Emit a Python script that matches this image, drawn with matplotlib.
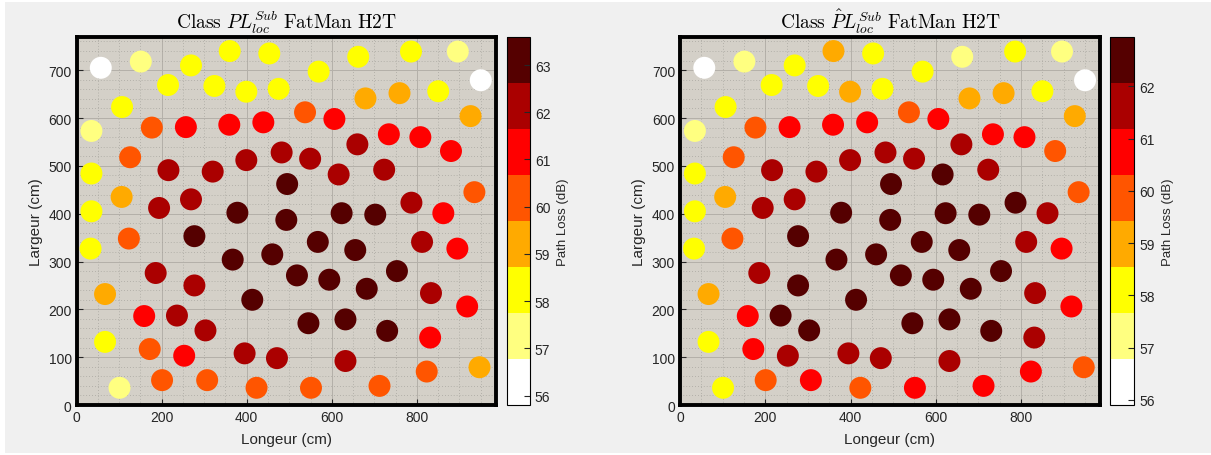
import numpy as np
import matplotlib
matplotlib.use('Agg')
import matplotlib.pyplot as plt
from matplotlib.colors import ListedColormap
from matplotlib.patches import Rectangle
from matplotlib.ticker import MultipleLocator

plt.rcParams['font.family'] = ['Liberation Sans', 'DejaVu Sans']
plt.rcParams['mathtext.fontset'] = 'cm'

# positions des mesures (cm)
x_pos = [57, 151, 269, 360, 453, 215, 324, 399, 475, 569, 662, 786, 896, 950,
         679, 759, 850, 926, 107, 35, 177, 257, 359, 439, 537, 606, 734, 808,
         880, 660, 126, 216, 320, 399, 482, 549, 616, 723, 495, 35, 106, 35,
         194, 269, 378, 493, 623, 702, 787, 862, 935, 33, 123, 277, 367, 460,
         567, 655, 812, 895, 186, 277, 518, 594, 682, 753, 833, 918, 67, 413,
         159, 236, 303, 545, 632, 730, 831, 67, 172, 253, 395, 471, 632, 947,
         823, 101, 201, 307, 423, 551, 712]
y_pos = [705, 718, 710, 740, 735, 669, 667, 655, 661, 697, 728, 739, 739, 679,
         641, 652, 656, 604, 623, 573, 580, 581, 586, 591, 612, 598, 566, 560,
         531, 545, 518, 491, 488, 512, 528, 515, 482, 492, 462, 484, 435, 405,
         412, 430, 402, 387, 401, 398, 423, 401, 445, 327, 348, 353, 304, 315,
         341, 324, 341, 327, 276, 250, 271, 262, 243, 280, 234, 206, 232, 220,
         186, 187, 156, 171, 179, 155, 141, 132, 117, 103, 108, 98, 92, 79,
         70, 36, 52, 52, 36, 36, 40]

# Path loss (dB)
pl_sub = [55.8, 57, 58, 58, 58, 58, 58, 58, 58, 58, 58, 58, 57, 56,
          59, 59, 58, 59, 58, 57, 60, 61, 61, 61, 60, 61, 61, 61,
          61, 62, 60, 62, 62, 62, 62, 62, 62, 62, 63, 58, 59, 58,
          62, 62, 63, 63, 63, 63.6, 62, 61, 60, 58, 60, 63, 63, 63,
          63, 63, 62, 61, 62, 62, 63, 63, 63, 63, 62, 61, 59, 63,
          61, 62, 62, 63, 63, 63, 61, 58, 60, 61, 62, 62, 62, 59,
          60, 57, 60, 60, 60, 60, 60]
pl_sub_hat = [55.9, 57, 58, 59, 58, 58, 58, 59, 58, 58, 57, 58, 57, 56,
              59, 59, 58, 59, 58, 57, 60, 61, 61, 61, 60, 61, 61, 61,
              60, 62, 60, 62, 62, 62, 62, 62, 62.6, 62, 62.6, 58, 59, 58,
              62, 62, 62.6, 62.6, 62.6, 62.95, 62.6, 62, 60, 58, 60, 62.6, 62.6, 62.6,
              62.6, 62.6, 62, 61, 62, 62.6, 62.6, 62.6, 62.6, 62.6, 62, 61, 59, 62.6,
              61, 62.6, 62.6, 62.6, 62.6, 62.6, 62, 58, 61, 62, 62, 62, 62, 60,
              61, 58, 60, 61, 60, 61, 61]

titles = [r'$\mathrm{Class}\ PL_{loc}^{Sub}\ \mathrm{FatMan\ H2T}$',
          r'$\mathrm{Class}\ \hat{P}L_{loc}^{Sub}\ \mathrm{FatMan\ H2T}$']

# hot(8) de MATLAB, inversée
hot8 = [(1, 1, 1), (1, 1, 0.5), (1, 1, 0), (1, 0.667, 0), (1, 0.333, 0),
        (1, 0, 0), (0.667, 0, 0), (0.333, 0, 0)]
cmap = ListedColormap(hot8)

txt = '#262626'
fig = plt.figure(figsize=(12.11, 4.56), dpi=100, facecolor='white')
fig.patches.append(Rectangle((5 / 1211, 2 / 456), 1206 / 1211, 451 / 456,
                             transform=fig.transFigure, facecolor='#f0f0f0',
                             edgecolor='none', zorder=-10))

ax_pos = [[0.0632, 0.1096, 0.3461, 0.8077], [0.5615, 0.1096, 0.3468, 0.8077]]
cb_pos = [[0.4187, 0.1096, 0.019, 0.8077], [0.917, 0.1096, 0.0198, 0.8077]]

for k, vals in enumerate([pl_sub, pl_sub_hat]):
    ax = fig.add_axes(ax_pos[k])
    ax.set_facecolor('#d4d0c8')
    sc = ax.scatter(x_pos, y_pos, c=vals, cmap=cmap, vmin=min(vals), vmax=max(vals),
                    s=250, linewidths=0, zorder=3)
    ax.set_xlim(0, 985)
    ax.set_ylim(0, 770)
    ax.xaxis.set_major_locator(MultipleLocator(200))
    ax.xaxis.set_minor_locator(MultipleLocator(50))
    ax.yaxis.set_major_locator(MultipleLocator(100))
    ax.yaxis.set_minor_locator(MultipleLocator(20))
    ax.set_axisbelow(True)
    ax.grid(which='major', color='#b3b0a9', linewidth=0.7)
    ax.grid(which='minor', color='#a9a69f', linewidth=0.6, linestyle=(0, (1, 2.5)))
    ax.tick_params(which='major', direction='in', length=4, width=0.8,
                   labelsize=10, labelcolor=txt, color='#262626')
    ax.tick_params(which='minor', length=0)
    for sp in ax.spines.values():
        sp.set_linewidth(2.8)
        sp.set_color('black')
    ax.set_xlabel('Longeur (cm)', fontsize=11, color=txt, labelpad=6)
    ax.set_ylabel('Largeur (cm)', fontsize=11, color=txt, labelpad=4)
    ax.set_title(titles[k], fontsize=14, color='black', pad=6)

    cax = fig.add_axes(cb_pos[k])
    cb = fig.colorbar(sc, cax=cax)
    cb.outline.set_linewidth(0.8)
    cb.ax.tick_params(direction='in', length=4, width=0.8, labelsize=10,
                      labelcolor=txt, color='#262626')
    cb.set_label('Path Loss (dB)', fontsize=9.5, color=txt, labelpad=5)

fig.savefig('out.png', dpi=100, facecolor=fig.get_facecolor())
